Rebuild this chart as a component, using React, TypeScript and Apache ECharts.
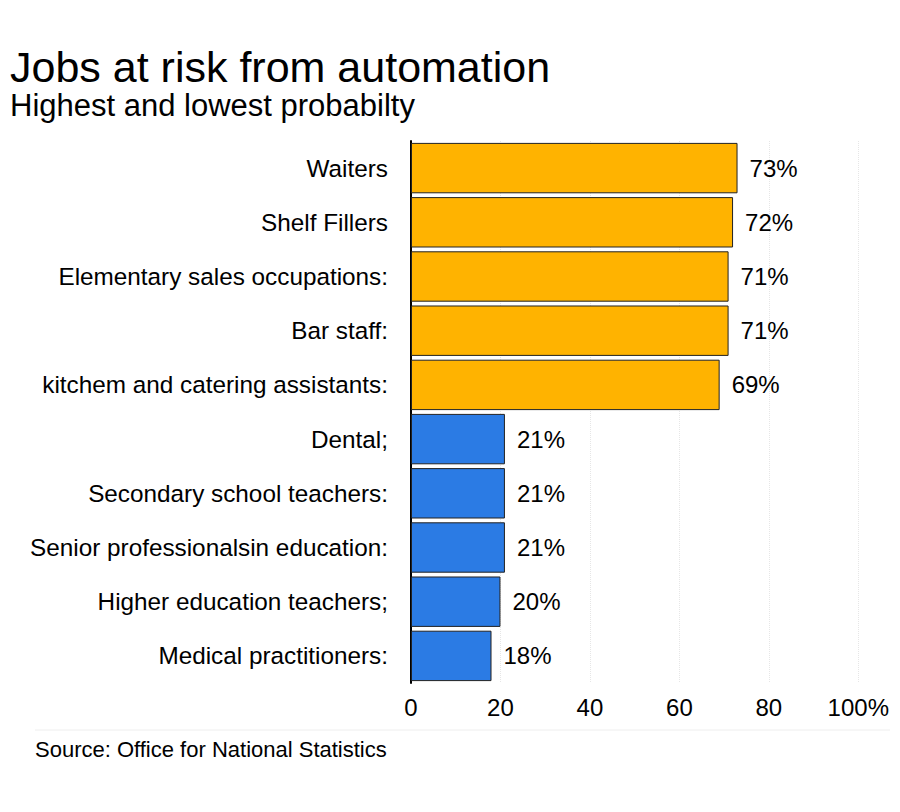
import React, { useEffect, useRef } from "react";
import * as echarts from "echarts";

const categories = [
  "Waiters",
  "Shelf Fillers",
  "Elementary sales occupations:",
  "Bar staff:",
  "kitchem and catering assistants:",
  "Dental;",
  "Secondary school teachers:",
  "Senior professionalsin education:",
  "Higher education teachers;",
  "Medical practitioners:",
];
const values = [73, 72, 71, 71, 69, 21, 21, 21, 20, 18];
const groups = ["high", "high", "high", "high", "high", "low", "low", "low", "low", "low"];
const groupColors: Record<string, string> = { high: "#FFB300", low: "#2B7BE4" };

const FONT = "Liberation Sans, Arial, sans-serif";

export default function App() {
  const ref = useRef<HTMLDivElement>(null);
  useEffect(() => {
    if (!ref.current) return;
    const chart = echarts.init(ref.current, undefined, { renderer: "svg" });
    chart.setOption({
      animation: false,
      backgroundColor: "#fff",
      textStyle: { fontFamily: FONT },
      title: [
        {
          text: "Jobs at risk from automation",
          left: 2,
          top: 37,
          padding: 0,
          textStyle: { fontSize: 43, fontWeight: "normal", color: "#000", fontFamily: FONT },
        },
        {
          text: "Highest and lowest probabilty",
          left: 2,
          top: 82,
          padding: 0,
          textStyle: { fontSize: 31, fontWeight: "normal", color: "#000", fontFamily: FONT },
        },
        {
          text: "Source: Office for National Statistics",
          left: 27,
          top: 730,
          padding: 0,
          textStyle: { fontSize: 22, fontWeight: "normal", color: "#000", fontFamily: FONT },
        },
      ],
      grid: { left: 403, right: 28, top: 133, bottom: 121, containLabel: false },
      xAxis: {
        type: "value",
        min: 0,
        max: 100,
        interval: 20,
        axisLine: { show: false },
        axisTick: { show: false },
        splitLine: { show: true, lineStyle: { color: "#e6e6e6", type: "dotted" } },
        axisLabel: {
          fontSize: 24,
          color: "#000",
          margin: 12,
          fontFamily: FONT,
          formatter: (v: number) => (v === 100 ? "100%" : String(v)),
        },
      },
      yAxis: {
        type: "category",
        data: categories,
        inverse: true,
        axisLine: { show: true, lineStyle: { color: "#000", width: 2 } },
        axisTick: { show: false },
        axisLabel: { fontSize: 24.3, color: "#000", margin: 23, fontFamily: FONT },
      },
      series: [
        {
          type: "bar",
          data: values.map((v, i) => ({
            value: v,
            itemStyle: { color: groupColors[groups[i]] },
          })),
          barCategoryGap: "7%",
          itemStyle: { borderColor: "#222", borderWidth: 1 },
          label: {
            show: true,
            position: "right",
            distance: 12,
            fontSize: 24,
            color: "#000",
            fontFamily: FONT,
            formatter: (p: any) => p.value + "%",
          },
        },
      ],
      graphic: [
        {
          type: "line",
          shape: { x1: 27, y1: 722, x2: 882, y2: 722 },
          style: { stroke: "#eeeeee", lineWidth: 1 },
        },
      ],
    });
    return () => chart.dispose();
  }, []);
  return <div ref={ref} style={{ width: 884, height: 796 }} />;
}
